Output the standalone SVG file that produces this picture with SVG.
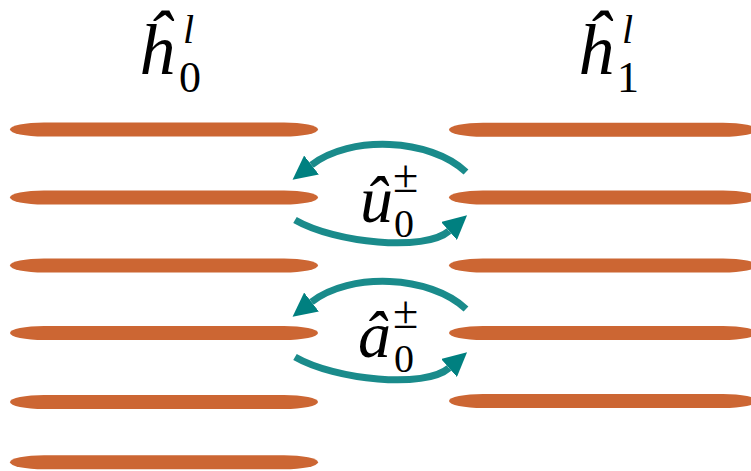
<svg xmlns="http://www.w3.org/2000/svg" width="751" height="471" viewBox="0 0 751 471">
<defs>
<style>
.bar{fill:#CC6633}
.arc{fill:none;stroke:#1a8b8b;stroke-width:7}
.it{font-family:"Liberation Serif","DejaVu Serif",serif;font-style:italic;fill:#000}
.rm{font-family:"Liberation Serif","DejaVu Serif",serif;fill:#000}
</style>
<marker id="ah" markerUnits="userSpaceOnUse" markerWidth="24" markerHeight="24" refX="0" refY="10.5" orient="auto" viewBox="0 0 21 21">
<path d="M0,0 L21,10.5 L0,21 Z" fill="#008080"/>
</marker>
</defs>
<g id="left-layer">
<rect class="bar" x="10" y="122.5" width="308" height="14" rx="34" ry="7"/>
<rect class="bar" x="10" y="190.5" width="308" height="14" rx="34" ry="7"/>
<rect class="bar" x="10" y="258.5" width="308" height="14" rx="34" ry="7"/>
<rect class="bar" x="10" y="326" width="308" height="14" rx="34" ry="7"/>
<rect class="bar" x="10" y="395" width="308" height="14" rx="34" ry="7"/>
<rect class="bar" x="10" y="455.3" width="308" height="14" rx="34" ry="7"/>
</g>
<g id="right-layer">
<rect class="bar" x="449" y="122.7" width="308" height="14" rx="34" ry="7"/>
<rect class="bar" x="449" y="190.5" width="308" height="14" rx="34" ry="7"/>
<rect class="bar" x="449" y="258.5" width="308" height="14" rx="34" ry="7"/>
<rect class="bar" x="449" y="326" width="308" height="14" rx="34" ry="7"/>
<rect class="bar" x="449" y="394" width="308" height="14" rx="34" ry="7"/>
</g>
<g id="label-h0">
<text class="it" x="138" y="74" font-size="72">ĥ</text>
<text class="it" x="183" y="43" font-size="40">l</text>
<text class="rm" x="179" y="92" font-size="44">0</text>
</g>
<g id="label-h1">
<text class="it" x="577" y="74" font-size="72">ĥ</text>
<text class="it" x="622" y="43" font-size="40">l</text>
<text class="rm" x="617" y="92" font-size="44">1</text>
</g>
<g id="connectors">
<path class="arc" d="M466,172 C430,138 350,135 311.5,165" marker-end="url(#ah)"/>
<path class="arc" d="M295,220 C335,243 425,252 449,231" marker-end="url(#ah)"/>
<path class="arc" d="M466,309 C430,275 350,272 311.5,302" marker-end="url(#ah)"/>
<path class="arc" d="M295,357 C335,380 425,389 449,368" marker-end="url(#ah)"/>
</g>
<g id="label-u">
<text class="it" x="360" y="222" font-size="66">û</text>
<text class="rm" x="393" y="192" font-size="46">±</text>
<text class="rm" x="394" y="237" font-size="40">0</text>
</g>
<g id="label-a">
<text class="it" x="358" y="357" font-size="66">â</text>
<text class="rm" x="393" y="328" font-size="46">±</text>
<text class="rm" x="394" y="372" font-size="40">0</text>
</g>
</svg>
